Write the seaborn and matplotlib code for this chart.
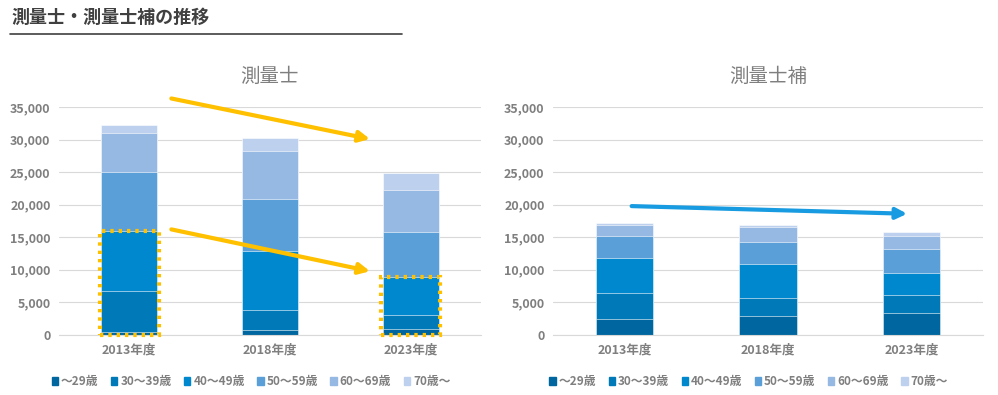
import matplotlib
matplotlib.use("Agg")
import matplotlib.pyplot as plt
import matplotlib.patches as mpatches
import numpy as np
import pandas as pd
import seaborn as sns

# ── Data ─────────────────────────────────────────────────────────────────────
YEARS = ["2013年度", "2018年度", "2023年度"]
AGES = ["～29歳", "30～39歳", "40～49歳", "50～59歳", "60～69歳", "70歳～"]
COLORS = ["#00669F", "#0079B8", "#0088CF", "#5B9FD9", "#95B9E2", "#BDD1EE"]

# 測量士 (people, by age group)
surveyor = {
    "～29歳":   [500, 770, 970],
    "30～39歳": [6200, 3070, 2050],
    "40～49歳": [9200, 9130, 5950],
    "50～59歳": [9200, 7890, 6820],
    "60～69歳": [5900, 7330, 6510],
    "70歳～":   [1300, 2050, 2560],
}
# 測量士補
assistant = {
    "～29歳":   [2510, 2920, 3430],
    "30～39歳": [4000, 2820, 2670],
    "40～49歳": [5280, 5230, 3380],
    "50～59歳": [3480, 3380, 3690],
    "60～69歳": [1640, 2210, 2100],
    "70歳～":   [260, 300, 570],
}

TEXT = "#7F7F7F"
sns.set_style("white")
plt.rcParams["font.family"] = ["Noto Sans CJK JP", "DejaVu Sans"]


def stacked(ax, data, title):
    df = pd.DataFrame(data, index=YEARS)
    cum = df.cumsum(axis=1)
    # draw from the top layer down so each lower layer covers the upper one
    for age, color in reversed(list(zip(AGES, COLORS))):
        sns.barplot(x=cum.index, y=cum[age].values, color=color, width=0.4,
                    saturation=1, edgecolor="white", linewidth=0.4, ax=ax,
                    zorder=2)
    ax.set_ylim(0, 35000)
    ax.set_yticks(np.arange(0, 35001, 5000))
    ax.set_yticklabels([f"{v:,}" for v in range(0, 35001, 5000)])
    ax.yaxis.grid(True, color="#D9D9D9", lw=0.8, zorder=0)
    ax.set_axisbelow(True)
    for s in ["top", "right", "left"]:
        ax.spines[s].set_visible(False)
    ax.spines["bottom"].set_color("#D9D9D9")
    ax.tick_params(axis="both", length=0, labelsize=9, labelcolor=TEXT, pad=6)
    for lab in ax.get_xticklabels() + ax.get_yticklabels():
        lab.set_fontweight("bold")
    ax.set_xlabel("")
    ax.set_ylabel("")
    ax.set_title(title, fontsize=14, color=TEXT, pad=18)
    handles = [mpatches.Patch(color=c, label=a) for a, c in zip(AGES, COLORS)]
    leg = ax.legend(handles=handles, loc="upper center", bbox_to_anchor=(0.455, -0.13),
                    ncol=6, frameon=False, fontsize=8.5, handlelength=0.55,
                    handleheight=0.55, handletextpad=0.25, columnspacing=1.05)
    for t in leg.get_texts():
        t.set_color(TEXT)
        t.set_fontweight("bold")
    return df, cum


fig = plt.figure(figsize=(9.98, 3.95), dpi=100)
ax1 = fig.add_axes([0.059, 0.152, 0.423, 0.577])
ax2 = fig.add_axes([0.554, 0.152, 0.431, 0.577])

df1, cum1 = stacked(ax1, surveyor, "測量士")
df2, cum2 = stacked(ax2, assistant, "測量士補")

# trend arrows
YELLOW = "#FFC000"
arrow_y = dict(arrowstyle="-|>", color=YELLOW, lw=3, mutation_scale=16)
ax1.annotate("", xy=(1.73, 30000), xytext=(0.28, 36400), arrowprops=arrow_y,
             annotation_clip=False)
ax1.annotate("", xy=(1.73, 9700), xytext=(0.28, 16300), arrowprops=arrow_y,
             annotation_clip=False)
ax2.annotate("", xy=(1.99, 18600), xytext=(0.03, 19800),
             arrowprops=dict(arrowstyle="-|>", color="#189BE0", lw=3,
                             mutation_scale=16))

# dotted highlight boxes around the under-50 part
for i in [0, 2]:
    top = cum1["40～49歳"].iloc[i]
    ax1.add_patch(mpatches.Rectangle((i - 0.21, 0), 0.42, top, fill=False,
                                     edgecolor=YELLOW, lw=3, ls=(0, (0.8, 1.2)),
                                     zorder=5, clip_on=False))

# main title with underline
fig.text(0.012, 0.955, "測量士・測量士補の推移", fontsize=13, fontweight="bold",
         color="#404040", va="center")
fig.add_artist(plt.Line2D([0.010, 0.403], [0.914, 0.914], color="#404040", lw=1.2))

fig.savefig("out.png", dpi=100)
